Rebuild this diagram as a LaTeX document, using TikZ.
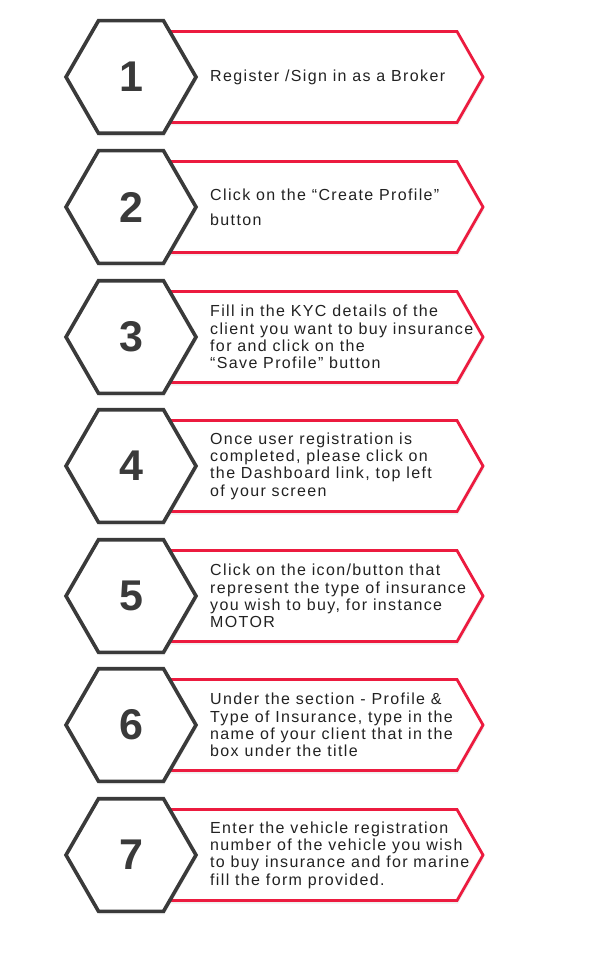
\documentclass[tikz,border=0pt]{standalone}
\usepackage{fontspec}
\setmainfont{Liberation Sans}
\usetikzlibrary{shadows}
\definecolor{hexgray}{HTML}{3A3A3A}
\definecolor{stepred}{HTML}{EC1B3F}
\definecolor{txtgray}{HTML}{222222}
\tikzset{
  hexshape/.style={draw=hexgray, line width=3.6pt, fill=white, line join=miter,
     drop shadow={opacity=0.12, shadow xshift=1pt, shadow yshift=-3pt}},
  arrowbox/.style={draw=stepred, line width=2.8pt, fill=white, line join=miter,
     drop shadow={opacity=0.12, shadow xshift=1pt, shadow yshift=-3pt}},
  numtext/.style={font=\fontsize{43}{43}\selectfont\bfseries, text=hexgray, inner sep=0pt},
  steptext/.style={font=\fontsize{16}{17.4}\selectfont\addfontfeature{LetterSpace=8.5}, text=txtgray,
     align=left, anchor=west, inner sep=0pt}
}
\newcommand{\stepitem}[3]{%
  \path[arrowbox] (140,-#2+45.5) -- (457,-#2+45.5) -- (483,-#2) -- (457,-#2-45.5) -- (140,-#2-45.5) -- cycle;
  \path[hexshape] (66,-#2) -- (98.5,-#2+56.3) -- (163.5,-#2+56.3) -- (196,-#2) -- (163.5,-#2-56.3) -- (98.5,-#2-56.3) -- cycle;
  \node[numtext] (num#1) at (131,-#2) {#1};
  \node[steptext] (txt#1) at (210,-#2) {#3};
}
\begin{document}
\begin{tikzpicture}[x=1pt,y=1pt]
\useasboundingbox[fill=white] (0,0) rectangle (600,-960);
\stepitem{1}{77}{Register /Sign in as a Broker}
\stepitem{2}{207}{Click on the “Create Profile”\\[8pt]button}
\stepitem{3}{337}{Fill in the KYC details of the\\client you want to buy insurance\\for and click on the\\“Save Profile” button}
\stepitem{4}{466}{Once user registration is\\completed, please click on\\the Dashboard link, top left\\of your screen}
\stepitem{5}{596}{Click on the icon/button that\\represent the type of insurance\\you wish to buy, for instance\\MOTOR}
\stepitem{6}{725}{Under the section - Profile \&\\Type of Insurance, type in the\\name of your client that in the\\box under the title}
\stepitem{7}{855}{Enter the vehicle registration\\number of the vehicle you wish\\to buy insurance and for marine\\fill the form provided.}
\end{tikzpicture}
\end{document}
